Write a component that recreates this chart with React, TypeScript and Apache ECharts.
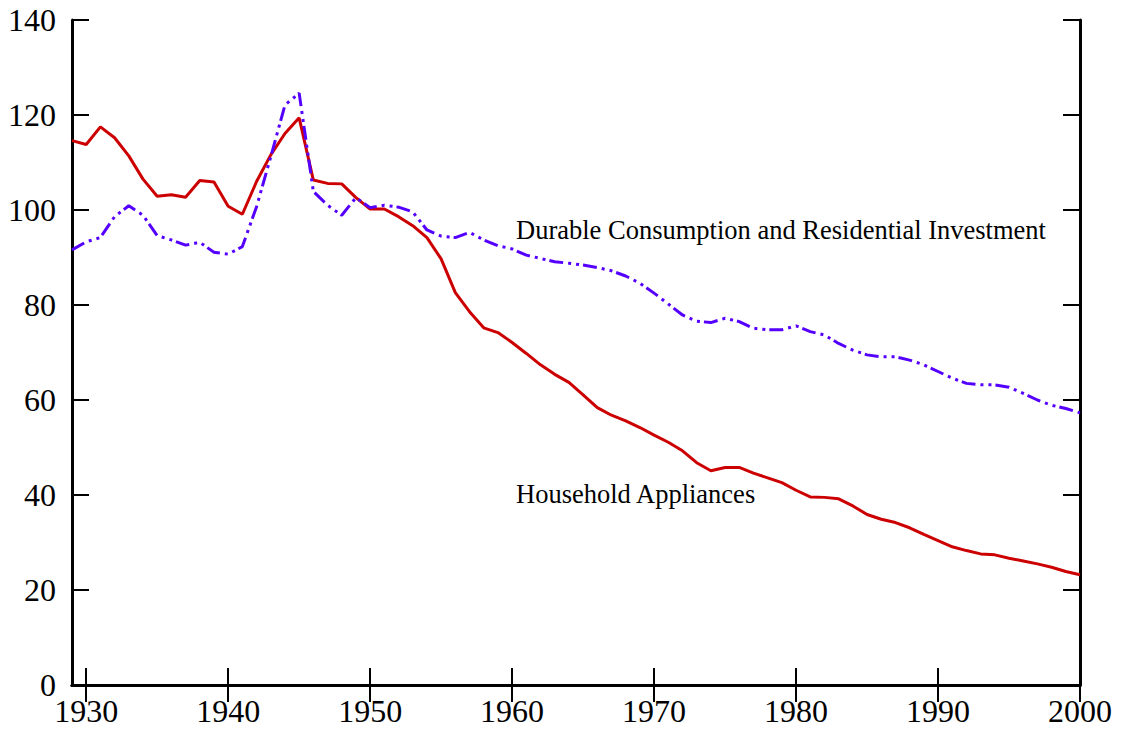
import React, { useEffect, useRef } from "react";
import * as echarts from "echarts";

const years: number[] = [];
for (let y = 1929; y <= 2000; y++) years.push(y);

const householdAppliances = [
  114.6, 113.8, 117.5, 115.2, 111.4, 106.5, 102.9, 103.2, 102.7, 106.2,
  105.9, 100.8, 99.1, 106.0, 111.6, 116.1, 119.4, 106.3, 105.6, 105.5,
  102.6, 100.2, 100.2, 98.6, 96.7, 94.2, 89.7, 82.6, 78.6, 75.2,
  74.2, 72.1, 69.8, 67.4, 65.4, 63.7, 61.1, 58.4, 56.8, 55.6,
  54.2, 52.6, 51.1, 49.3, 46.8, 45.1, 45.8, 45.8, 44.6, 43.6,
  42.6, 41.0, 39.6, 39.5, 39.2, 37.7, 35.9, 34.9, 34.2, 33.1,
  31.7, 30.4, 29.1, 28.3, 27.6, 27.4, 26.7, 26.1, 25.5, 24.8,
  23.9, 23.2,
];

const durableConsumption = [
  91.6, 93.3, 94.2, 98.6, 100.9, 98.9, 94.6, 93.7, 92.6, 93.2,
  91.1, 90.7, 92.3, 100.7, 111.2, 122.1, 124.6, 103.9, 101.0, 98.9,
  102.6, 100.5, 101.0, 100.6, 99.6, 95.8, 94.5, 94.2, 95.3, 93.7,
  92.5, 91.8, 90.5, 89.8, 89.1, 88.8, 88.4, 87.9, 87.2, 86.1,
  84.6, 82.5, 80.2, 77.9, 76.6, 76.3, 77.2, 76.5, 75.1, 74.8,
  74.8, 75.6, 74.4, 73.7, 71.9, 70.5, 69.5, 69.1, 69.1, 68.4,
  67.4, 66.0, 64.6, 63.5, 63.2, 63.2, 62.7, 61.4, 60.0, 58.9,
  58.2, 57.3,
];

const xTickValues = [1930, 1940, 1950, 1960, 1970, 1980, 1990, 2000];
const labelDurable = "Durable Consumption and Residential Investment";
const labelAppliances = "Household Appliances";

export default function App() {
  const ref = useRef<HTMLDivElement>(null);

  useEffect(() => {
    if (!ref.current) return;
    const chart = echarts.init(ref.current, undefined, { renderer: "svg" });
    const serif = "'Liberation Serif', 'Times New Roman', serif";
    const axisLine = { show: true, lineStyle: { color: "#000", width: 3 } };
    const tick = (custom?: number[]) => ({
      show: true,
      inside: true,
      length: 17,
      lineStyle: { color: "#000", width: 2 },
      ...(custom ? { customValues: custom } : {}),
    });

    chart.setOption({
      animation: false,
      backgroundColor: "#fff",
      grid: { left: 72, right: 41, top: 20, bottom: 47, containLabel: false },
      xAxis: [
        {
          type: "value",
          position: "bottom",
          min: 1929,
          max: 2000,
          axisLine,
          axisTick: tick(xTickValues),
          axisLabel: {
            customValues: xTickValues,
            formatter: (v: number) => String(v),
            color: "#000",
            fontFamily: serif,
            fontSize: 32,
            margin: 10,
          },
          splitLine: { show: false },
        },
        {
          type: "value",
          position: "top",
          min: 1929,
          max: 2000,
          axisLine,
          axisTick: tick(xTickValues),
          axisLabel: { show: false },
          splitLine: { show: false },
        },
      ],
      yAxis: [
        {
          type: "value",
          position: "left",
          min: 0,
          max: 140,
          interval: 20,
          axisLine,
          axisTick: tick(),
          axisLabel: {
            formatter: (v: number) => String(v),
            color: "#000",
            fontFamily: serif,
            fontSize: 32,
            margin: 16,
          },
          splitLine: { show: false },
        },
        {
          type: "value",
          position: "right",
          min: 0,
          max: 140,
          interval: 20,
          axisLine,
          axisTick: tick(),
          axisLabel: { show: false },
          splitLine: { show: false },
        },
      ],
      series: [
        {
          name: labelAppliances,
          type: "line",
          xAxisIndex: 0,
          yAxisIndex: 0,
          data: years.map((y, i) => [y, householdAppliances[i]]),
          showSymbol: false,
          symbol: "none",
          lineStyle: { color: "#cc0000", width: 3 },
        },
        {
          name: labelDurable,
          type: "line",
          xAxisIndex: 0,
          yAxisIndex: 0,
          data: years.map((y, i) => [y, durableConsumption[i]]),
          showSymbol: false,
          symbol: "none",
          lineStyle: {
            color: "#5500ff",
            width: 3,
            type: [14, 5, 3, 5, 3, 4],
          },
        },
      ],
      graphic: [
        {
          type: "text",
          left: 516,
          top: 216,
          style: {
            text: labelDurable,
            fill: "#000",
            fontFamily: serif,
            fontSize: 26.5,
          },
        },
        {
          type: "text",
          left: 516,
          top: 480,
          style: {
            text: labelAppliances,
            fill: "#000",
            fontFamily: serif,
            fontSize: 26.5,
          },
        },
      ],
    });

    return () => chart.dispose();
  }, []);

  return (
    <div
      ref={ref}
      style={{ position: "absolute", left: 0, top: 0, width: 1121, height: 732 }}
    />
  );
}
